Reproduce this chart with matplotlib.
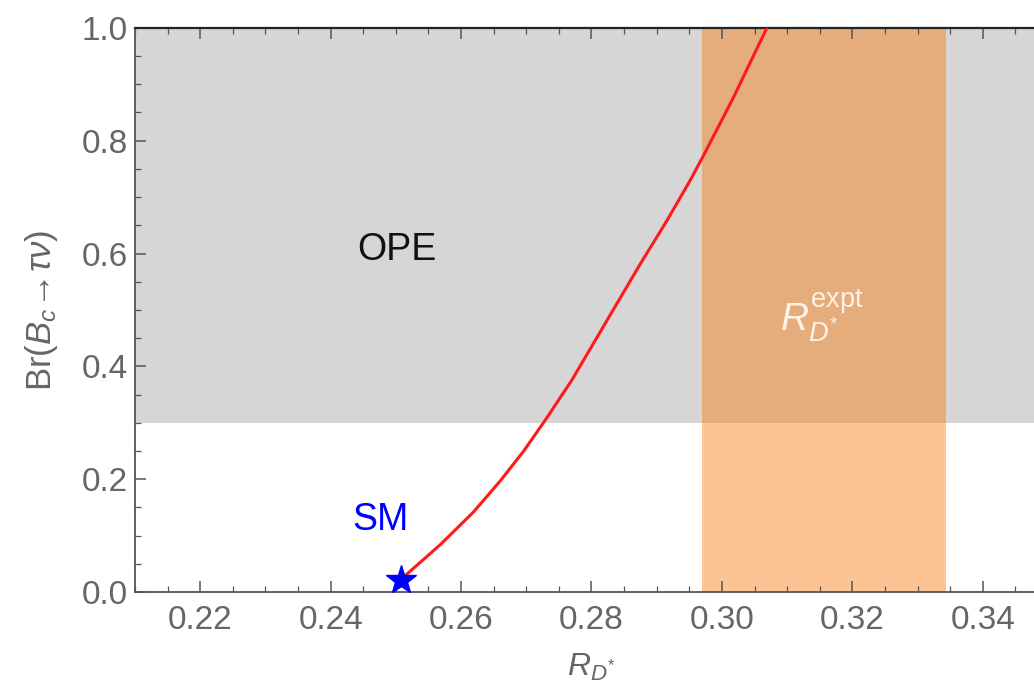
import numpy as np
import matplotlib
matplotlib.use("Agg")
import matplotlib.pyplot as plt
from matplotlib.ticker import MultipleLocator, FormatStrFormatter

# curve: R_D* vs Br(Bc -> tau nu)
curve_x = [0.2508, 0.2517, 0.2568, 0.2619, 0.2660, 0.2696, 0.2731, 0.2770,
           0.2823, 0.2874, 0.2915, 0.2951, 0.2971, 0.3017, 0.3069]
curve_y = [0.022, 0.032, 0.084, 0.142, 0.197, 0.250, 0.308, 0.376,
           0.480, 0.580, 0.657, 0.729, 0.772, 0.875, 1.000]

sm_point = (0.2508, 0.021)
ope_band = (0.3, 1.0)
expt_band = (0.297, 0.3344)

plt.rcParams['font.family'] = ['Liberation Sans', 'DejaVu Sans']
plt.rcParams['mathtext.fontset'] = 'custom'
plt.rcParams['mathtext.rm'] = 'Liberation Sans'
plt.rcParams['mathtext.it'] = 'Liberation Sans:italic'

fig = plt.figure(figsize=(10.34, 6.95), dpi=100)
ax = fig.add_axes([0.1306, 0.148, 0.8829, 0.812])

# shaded regions
ax.axhspan(ope_band[0], ope_band[1], color='#d6d6d6', lw=0, zorder=0)
ax.axvspan(expt_band[0], expt_band[1], color='#fa7300', alpha=0.42, lw=0, zorder=1)

# curve and SM point
ax.plot(curve_x, curve_y, color='#ff1a1a', lw=2.2, zorder=3, solid_joinstyle='round')
ax.plot(*sm_point, marker='*', color='#0000ff', markersize=22, zorder=4, clip_on=False)

ax.text(0.2502, 0.606, 'OPE', fontsize=27, color='#111111', ha='center', va='center')
ax.text(0.2476, 0.128, 'SM', fontsize=27, color='#0000ff', ha='center', va='center')
ax.text(0.3153, 0.49, r'$R_{D^{*}}^{\mathrm{expt}}$', fontsize=28, color='#fff2e4',
        ha='center', va='center')

ax.set_xlim(0.21, 0.35)
ax.set_ylim(0, 1.0)

ax.xaxis.set_major_locator(MultipleLocator(0.02))
ax.xaxis.set_minor_locator(MultipleLocator(0.005))
ax.yaxis.set_major_locator(MultipleLocator(0.2))
ax.yaxis.set_minor_locator(MultipleLocator(0.05))
ax.xaxis.set_major_formatter(FormatStrFormatter('%.2f'))
ax.yaxis.set_major_formatter(FormatStrFormatter('%.1f'))

ax.tick_params(which='both', direction='in', top=True, right=True, colors='#555555',
               labelcolor='#666666', labelsize=24)
ax.tick_params(which='major', length=8, width=1.1)
ax.tick_params(which='minor', length=4.5, width=0.9)
ax.tick_params(axis='x', pad=9)
ax.tick_params(axis='y', pad=5)

for side in ['left', 'bottom', 'right']:
    ax.spines[side].set_color('#555555')
    ax.spines[side].set_linewidth(1.3)
ax.spines['top'].set_color('#222222')
ax.spines['top'].set_linewidth(1.6)

ax.set_xlabel(r'$R_{D^{*}}$', fontsize=23, color='#666666', labelpad=12)
ax.set_ylabel(r'Br$(B_c\!\rightarrow\!\tau\nu)$', fontsize=25, color='#666666', labelpad=16)

fig.savefig('out.png', dpi=100)
